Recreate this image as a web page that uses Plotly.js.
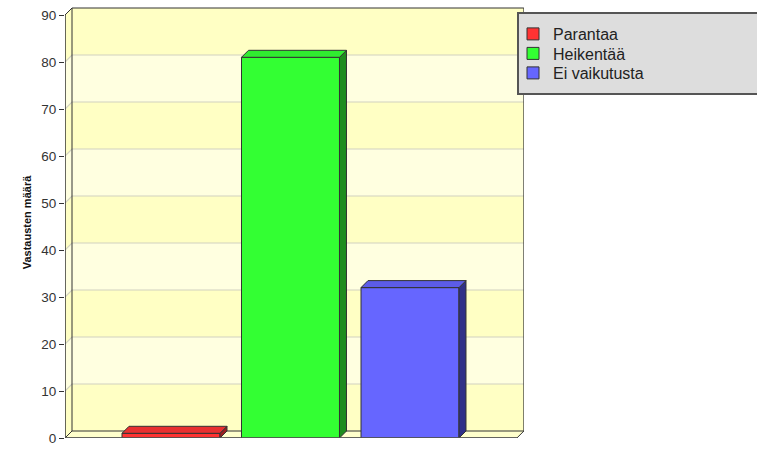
<!DOCTYPE html>
<html>
<head>
<meta charset="utf-8">
<script src="https://cdn.plot.ly/plotly-3.0.1.min.js"></script>
<style>html,body{margin:0;padding:0;background:#fff;}#chart{width:757px;height:455px;}</style>
</head>
<body>
<div id="chart"></div>
<script>
// ---- data ----
const categories = ["Parantaa", "Heikentää", "Ei vaikutusta"];
const values = [1, 81, 32];
const yTicks = [0, 10, 20, 30, 40, 50, 60, 70, 80, 90];
const yTitle = "Vastausten määrä";

// ---- styles ----
const frontColors = ["#ff3333", "#33ff33", "#6666ff"];
const topColors = ["#e83030", "#30ec30", "#5c5ce8"];
const sideColors = ["#9a2020", "#1e8c1e", "#303088"];
const bandDark = "#ffffc4";
const bandLight = "#ffffe0";
const edge = "#333333";
const FONT = "Liberation Sans, Arial, Helvetica, sans-serif";

// geometry (axis units)
const xRange = [-0.887, 2.954];
const yMax = 90;
const yTop = yMax * 431 / 423;
const pxPerY = 423 / 90;
const pxPerX = 119.5;
const dy = 7 / pxPerY;
const dx = 7 / pxPerX;
const barW = 0.82;
const xL = xRange[0];
const xRb = xRange[1] - 0.001;
const xRf = xRb - dx;

const shapes = [];
// bands on left + back wall
for (let k = 0; k < yTicks.length - 1; k++) {
  const v0 = yTicks[k], v1 = yTicks[k + 1];
  const path = `M${xL},${v0} L${xL + dx},${v0 + dy} L${xRb},${v0 + dy} L${xRb},${v1 + dy} L${xL + dx},${v1 + dy} L${xL},${v1} Z`;
  shapes.push({type: "path", xref: "x", yref: "y", path, fillcolor: k % 2 === 0 ? bandDark : bandLight, line: {width: 0}, layer: "below"});
}
// gridlines
yTicks.slice(1, -1).forEach(v => {
  shapes.push({type: "path", xref: "x", yref: "y", path: `M${xL},${v} L${xL + dx},${v + dy} L${xRb},${v + dy}`, line: {color: "#d2d2c0", width: 1.2}, layer: "below"});
});
// floor
shapes.push({type: "path", xref: "x", yref: "y", path: `M${xL},0 L${xRf},0 L${xRb},${dy} L${xL + dx},${dy} Z`, fillcolor: "#ffffcc", line: {color: edge, width: 1}, layer: "below"});
// wall outlines
shapes.push({type: "path", xref: "x", yref: "y", path: `M${xL + dx},${dy} L${xL + dx},${yMax + dy} L${xRb},${yMax + dy} L${xRb},${dy}`, line: {color: edge, width: 1}, layer: "below"});
shapes.push({type: "path", xref: "x", yref: "y", path: `M${xL},${yMax} L${xL + dx},${yMax + dy}`, line: {color: edge, width: 1}, layer: "below"});
// y axis line
shapes.push({type: "line", xref: "x", yref: "y", x0: xL, x1: xL, y0: 0, y1: yMax, line: {color: edge, width: 1.5}, layer: "above"});
// front floor edge
shapes.push({type: "line", xref: "x", yref: "y", x0: xL, x1: xRf, y0: 0, y1: 0, line: {color: "#555555", width: 1.5}, layer: "above"});
// legend box
shapes.push({type: "rect", xref: "paper", yref: "paper",
  x0: (518 - 65) / 459, x1: (770 - 65) / 459,
  y0: (438 - 94) / 431, y1: (438 - 13) / 431,
  fillcolor: "#dddddd", line: {color: "#555555", width: 2}, layer: "above"});

const legendIds = ["legend", "legend2", "legend3"];
const legendRowsPx = [34, 53.5, 73];

const traces = [];
categories.forEach((c, i) => {
  traces.push({type: "bar", name: c, x: [i], y: [values[i]], width: barW,
    marker: {color: frontColors[i], line: {color: edge, width: 1}},
    hoverinfo: "skip", showlegend: true, legend: legendIds[i]});
});
categories.forEach((c, i) => {
  const v = values[i], a = i - barW / 2, b = i + barW / 2;
  traces.push({type: "scatter", mode: "lines", x: [b, b + dx, b + dx, b, b], y: [0, dy, v + dy, v, 0],
    fill: "toself", fillcolor: sideColors[i], line: {color: edge, width: 1}, hoverinfo: "skip", showlegend: false});
  traces.push({type: "scatter", mode: "lines", x: [a, b, b + dx, a + dx, a], y: [v, v, v + dy, v + dy, v],
    fill: "toself", fillcolor: topColors[i], line: {color: edge, width: 1}, hoverinfo: "skip", showlegend: false});
});

const layout = {
  width: 757, height: 455,
  margin: {l: 65, r: 233, t: 7, b: 17, pad: 0},
  paper_bgcolor: "#ffffff", plot_bgcolor: "rgba(0,0,0,0)",
  font: {family: FONT, color: "#333333"},
  showlegend: true,
  barmode: "overlay",
  xaxis: {range: xRange, showgrid: false, zeroline: false, showticklabels: false, ticks: "", showline: false, fixedrange: true},
  yaxis: {range: [0, yTop], tickvals: yTicks, ticktext: yTicks.map(String), ticks: "outside", ticklen: 5, tickcolor: edge,
    tickfont: {size: 13.5, color: "#333333", family: FONT}, showgrid: false, zeroline: false, showline: false,
    title: {text: yTitle, font: {size: 11, family: FONT, weight: 700, color: "#111111"}, standoff: 7}, automargin: false, fixedrange: true},
  shapes
};
legendIds.forEach((id, i) => {
  layout[id] = {x: (513 - 65) / 459, xanchor: "left", y: (438 - legendRowsPx[i]) / 431, yanchor: "middle",
    bgcolor: "rgba(0,0,0,0)", borderwidth: 0, font: {size: 16, family: FONT, color: "#222222"}};
});
Plotly.newPlot("chart", traces, layout, {displayModeBar: false, staticPlot: true});
</script>
</body>
</html>
